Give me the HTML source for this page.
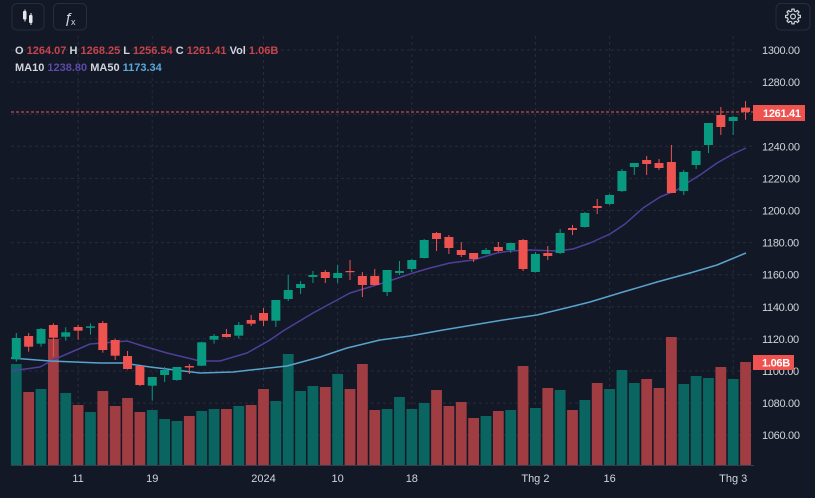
<!DOCTYPE html>
<html><head><meta charset="utf-8"><style>
html,body{margin:0;padding:0;background:#121826;}
body{width:815px;height:498px;overflow:hidden;}
svg{display:block;}
text{font-family:"Liberation Sans",sans-serif;}
</style></head><body>
<svg width="815" height="498" viewBox="0 0 815 498" xmlns="http://www.w3.org/2000/svg">
<rect width="815" height="498" fill="#121826"/>
<!-- grid -->
<g stroke="#262c38" stroke-width="1" stroke-dasharray="3,3">
<line x1="11" x2="753" y1="50" y2="50"/><line x1="11" x2="753" y1="82.1" y2="82.1"/><line x1="11" x2="753" y1="114.2" y2="114.2"/><line x1="11" x2="753" y1="146.3" y2="146.3"/><line x1="11" x2="753" y1="178.4" y2="178.4"/><line x1="11" x2="753" y1="210.5" y2="210.5"/><line x1="11" x2="753" y1="242.6" y2="242.6"/><line x1="11" x2="753" y1="274.7" y2="274.7"/><line x1="11" x2="753" y1="306.8" y2="306.8"/><line x1="11" x2="753" y1="338.9" y2="338.9"/><line x1="11" x2="753" y1="371" y2="371"/><line x1="11" x2="753" y1="403.1" y2="403.1"/><line x1="11" x2="753" y1="435.2" y2="435.2"/>
<line x1="78.1" x2="78.1" y1="36" y2="465"/><line x1="152.26" x2="152.26" y1="36" y2="465"/><line x1="263.5" x2="263.5" y1="36" y2="465"/><line x1="337.66" x2="337.66" y1="36" y2="465"/><line x1="411.82" x2="411.82" y1="36" y2="465"/><line x1="535.42" x2="535.42" y1="36" y2="465"/><line x1="609.58" x2="609.58" y1="36" y2="465"/><line x1="733.18" x2="733.18" y1="36" y2="465"/>
</g>
<!-- volume -->
<g fill="#0a6561">
<rect x="10.9" y="364" width="10.8" height="101"/><rect x="35.62" y="389" width="10.8" height="76"/><rect x="60.34" y="393" width="10.8" height="72"/><rect x="85.06" y="412" width="10.8" height="53"/><rect x="146.86" y="410" width="10.8" height="55"/><rect x="159.22" y="419" width="10.8" height="46"/><rect x="171.58" y="421" width="10.8" height="44"/><rect x="196.3" y="411" width="10.8" height="54"/><rect x="208.66" y="409" width="10.8" height="56"/><rect x="233.38" y="406" width="10.8" height="59"/><rect x="270.46" y="401" width="10.8" height="64"/><rect x="282.82" y="354" width="10.8" height="111"/><rect x="295.18" y="391" width="10.8" height="74"/><rect x="307.54" y="386" width="10.8" height="79"/><rect x="332.26" y="374" width="10.8" height="91"/><rect x="381.7" y="409" width="10.8" height="56"/><rect x="394.06" y="397" width="10.8" height="68"/><rect x="406.42" y="409" width="10.8" height="56"/><rect x="418.78" y="403" width="10.8" height="62"/><rect x="480.58" y="416" width="10.8" height="49"/><rect x="505.3" y="410" width="10.8" height="55"/><rect x="530.02" y="408" width="10.8" height="57"/><rect x="554.74" y="390" width="10.8" height="75"/><rect x="579.46" y="400" width="10.8" height="65"/><rect x="604.18" y="389" width="10.8" height="76"/><rect x="616.54" y="370" width="10.8" height="95"/><rect x="628.9" y="383" width="10.8" height="82"/><rect x="678.34" y="384" width="10.8" height="81"/><rect x="690.7" y="376" width="10.8" height="89"/><rect x="703.06" y="378" width="10.8" height="87"/><rect x="727.78" y="379" width="10.8" height="86"/>
</g>
<g fill="#a03d43">
<rect x="23.26" y="392" width="10.8" height="73"/><rect x="47.98" y="339" width="10.8" height="126"/><rect x="72.7" y="405" width="10.8" height="60"/><rect x="97.42" y="391" width="10.8" height="74"/><rect x="109.78" y="406" width="10.8" height="59"/><rect x="122.14" y="398" width="10.8" height="67"/><rect x="134.5" y="412" width="10.8" height="53"/><rect x="183.94" y="416" width="10.8" height="49"/><rect x="221.02" y="409" width="10.8" height="56"/><rect x="245.74" y="405" width="10.8" height="60"/><rect x="258.1" y="389" width="10.8" height="76"/><rect x="319.9" y="387" width="10.8" height="78"/><rect x="344.62" y="389" width="10.8" height="76"/><rect x="356.98" y="364" width="10.8" height="101"/><rect x="369.34" y="410" width="10.8" height="55"/><rect x="431.14" y="390" width="10.8" height="75"/><rect x="443.5" y="406" width="10.8" height="59"/><rect x="455.86" y="402" width="10.8" height="63"/><rect x="468.22" y="418" width="10.8" height="47"/><rect x="492.94" y="411" width="10.8" height="54"/><rect x="517.66" y="366" width="10.8" height="99"/><rect x="542.38" y="388" width="10.8" height="77"/><rect x="567.1" y="410" width="10.8" height="55"/><rect x="591.82" y="383" width="10.8" height="82"/><rect x="641.26" y="379" width="10.8" height="86"/><rect x="653.62" y="388" width="10.8" height="77"/><rect x="665.98" y="337" width="10.8" height="128"/><rect x="715.42" y="367" width="10.8" height="98"/><rect x="740.14" y="362" width="10.8" height="103"/>
</g>
<line x1="11" x2="754" y1="465.5" y2="465.5" stroke="#363c4c" stroke-width="1"/>
<!-- price line -->
<line x1="11" x2="753" y1="112" y2="112" stroke="#ef5350" stroke-width="1" stroke-dasharray="3,2"/>
<!-- MA lines (behind candles) -->
<polyline fill="none" stroke="#4f3f98" stroke-width="1.5" stroke-linejoin="round" points="11,371 40,367 53,360 90,344 127,341 143,346 167,353 200,361 220,361 247,353 270,340 283,331 313,313 350,293 383,283 413,273 430,268 450,263 473,260 497,253 510,251 530,250 557,251 573,249 590,243 610,234 625,224 643,208 660,197 677,190 687,183 700,175 717,163 733,154 746,148"/>
<polyline fill="none" stroke="#5aa3cc" stroke-width="1.5" stroke-linejoin="round" points="11,358 50,361 100,363 123,363 150,367 200,373 233,372 260,369 287,366 320,357 347,348 380,340 410,336 443,330 503,320 537,315 570,307 590,302 623,292 657,282 690,273 717,265 746,253"/>
<!-- candles up -->
<g fill="#089981">
<rect x="15.8" y="333" width="1" height="28.7"/><rect x="11.8" y="338" width="9" height="21.3"/>
<rect x="40.52" y="328" width="1" height="18.7"/><rect x="36.52" y="329" width="9" height="14.7"/>
<rect x="65.24" y="327.3" width="1" height="13.4"/><rect x="61.24" y="332.3" width="9" height="4.4"/>
<rect x="89.96" y="323.3" width="1" height="11.4"/><rect x="85.96" y="326.3" width="9" height="1.5"/>
<rect x="151.76" y="377" width="1" height="23.7"/><rect x="147.76" y="377" width="9" height="8.7"/>
<rect x="164.12" y="367" width="1" height="15"/><rect x="160.12" y="370" width="9" height="5"/>
<rect x="176.48" y="367" width="1" height="13.7"/><rect x="172.48" y="367" width="9" height="13"/>
<rect x="201.2" y="341.7" width="1" height="24.3"/><rect x="197.2" y="342.3" width="9" height="23.4"/>
<rect x="213.56" y="334" width="1" height="9.7"/><rect x="209.56" y="336" width="9" height="3.7"/>
<rect x="238.28" y="322" width="1" height="16.7"/><rect x="234.28" y="325" width="9" height="10.7"/>
<rect x="275.36" y="300" width="1" height="27"/><rect x="271.36" y="300" width="9" height="20.7"/>
<rect x="287.72" y="275" width="1" height="26"/><rect x="283.72" y="290" width="9" height="9"/>
<rect x="300.08" y="281" width="1" height="13"/><rect x="296.08" y="284" width="9" height="4"/>
<rect x="312.44" y="271" width="1" height="12"/><rect x="308.44" y="275" width="9" height="2"/>
<rect x="337.16" y="265" width="1" height="18"/><rect x="333.16" y="273" width="9" height="5"/>
<rect x="386.6" y="270" width="1" height="26"/><rect x="382.6" y="270" width="9" height="22"/>
<rect x="398.96" y="261" width="1" height="14"/><rect x="394.96" y="271" width="9" height="2"/>
<rect x="411.32" y="259" width="1" height="13"/><rect x="407.32" y="260" width="9" height="9"/>
<rect x="423.68" y="239" width="1" height="19.5"/><rect x="419.68" y="240" width="9" height="18"/>
<rect x="485.48" y="248" width="1" height="6.5"/><rect x="481.48" y="250" width="9" height="4"/>
<rect x="510.2" y="243" width="1" height="10"/><rect x="506.2" y="243" width="9" height="7"/>
<rect x="534.92" y="252" width="1" height="20.5"/><rect x="530.92" y="254" width="9" height="18"/>
<rect x="559.64" y="229" width="1" height="25"/><rect x="555.64" y="233" width="9" height="20"/>
<rect x="584.36" y="212" width="1" height="15.5"/><rect x="580.36" y="213" width="9" height="14"/>
<rect x="609.08" y="194" width="1" height="11"/><rect x="605.08" y="195" width="9" height="9"/>
<rect x="621.44" y="169" width="1" height="23"/><rect x="617.44" y="171" width="9" height="20"/>
<rect x="633.8" y="163" width="1" height="12"/><rect x="629.8" y="163" width="9" height="4"/>
<rect x="683.24" y="170" width="1" height="25"/><rect x="679.24" y="172" width="9" height="19"/>
<rect x="695.6" y="150" width="1" height="19"/><rect x="691.6" y="151" width="9" height="14"/>
<rect x="707.96" y="123" width="1" height="30"/><rect x="703.96" y="123" width="9" height="22"/>
<rect x="732.68" y="116" width="1" height="19"/><rect x="728.68" y="117" width="9" height="4"/>
</g>
<!-- candles down -->
<g fill="#ef5350">
<rect x="28.16" y="333" width="1" height="18.7"/><rect x="24.16" y="336" width="9" height="10.7"/>
<rect x="52.88" y="323.3" width="1" height="33.4"/><rect x="48.88" y="325" width="9" height="12.7"/>
<rect x="77.6" y="325" width="1" height="14.7"/><rect x="73.6" y="327" width="9" height="3.7"/>
<rect x="102.32" y="321" width="1" height="31.7"/><rect x="98.32" y="323" width="9" height="27"/>
<rect x="114.68" y="338.7" width="1" height="21.3"/><rect x="110.68" y="340" width="9" height="15.7"/>
<rect x="127.04" y="351" width="1" height="18.5"/><rect x="123.04" y="356" width="9" height="13"/>
<rect x="139.4" y="366" width="1" height="20"/><rect x="135.4" y="366" width="9" height="19"/>
<rect x="188.84" y="364" width="1" height="10"/><rect x="184.84" y="366" width="9" height="1.5"/>
<rect x="225.92" y="329" width="1" height="8.5"/><rect x="221.92" y="334" width="9" height="3"/>
<rect x="250.64" y="315" width="1" height="11"/><rect x="246.64" y="320" width="9" height="3.7"/>
<rect x="263" y="308" width="1" height="18"/><rect x="259" y="313" width="9" height="7.7"/>
<rect x="324.8" y="270" width="1" height="13"/><rect x="320.8" y="272" width="9" height="6"/>
<rect x="349.52" y="260" width="1" height="20"/><rect x="345.52" y="271" width="9" height="1.2"/>
<rect x="361.88" y="272" width="1" height="25"/><rect x="357.88" y="276" width="9" height="9"/>
<rect x="374.24" y="269" width="1" height="16.5"/><rect x="370.24" y="276" width="9" height="9"/>
<rect x="436.04" y="232" width="1" height="19"/><rect x="432.04" y="233" width="9" height="6"/>
<rect x="448.4" y="235" width="1" height="19"/><rect x="444.4" y="237" width="9" height="11"/>
<rect x="460.76" y="242" width="1" height="15"/><rect x="456.76" y="250" width="9" height="5"/>
<rect x="473.12" y="253" width="1" height="9"/><rect x="469.12" y="253" width="9" height="6"/>
<rect x="497.84" y="242" width="1" height="10"/><rect x="493.84" y="247" width="9" height="4"/>
<rect x="522.56" y="239" width="1" height="32"/><rect x="518.56" y="240" width="9" height="29"/>
<rect x="547.28" y="246" width="1" height="14"/><rect x="543.28" y="253" width="9" height="3"/>
<rect x="572" y="225" width="1" height="10"/><rect x="568" y="228" width="9" height="2"/>
<rect x="596.72" y="199" width="1" height="15"/><rect x="592.72" y="206" width="9" height="2"/>
<rect x="646.16" y="156" width="1" height="19"/><rect x="642.16" y="160" width="9" height="4"/>
<rect x="658.52" y="159" width="1" height="11"/><rect x="654.52" y="163" width="9" height="5"/>
<rect x="670.88" y="145" width="1" height="48"/><rect x="666.88" y="162" width="9" height="31"/>
<rect x="720.32" y="107" width="1" height="28"/><rect x="716.32" y="115" width="9" height="12"/>
<rect x="745.04" y="101" width="1" height="18.8"/><rect x="741.04" y="107.6" width="9" height="4.3"/>
</g>
<!-- price axis labels -->
<g fill="#d1d4dc" font-size="11" letter-spacing="-0.3">
<text x="762" y="54">1300.00</text>
<text x="762" y="86">1280.00</text>
<text x="762" y="150.3">1240.00</text>
<text x="762" y="182.4">1220.00</text>
<text x="762" y="214.5">1200.00</text>
<text x="762" y="246.6">1180.00</text>
<text x="762" y="278.7">1160.00</text>
<text x="762" y="310.8">1140.00</text>
<text x="762" y="342.9">1120.00</text>
<text x="762" y="375">1100.00</text>
<text x="762" y="407.1">1080.00</text>
<text x="762" y="439.2">1060.00</text>
</g>
<rect x="753" y="105" width="52" height="16" fill="#ef5350"/>
<text x="763" y="117" fill="#ffffff" font-size="11" font-weight="bold" letter-spacing="-0.3">1261.41</text>
<rect x="753" y="355" width="41" height="15" fill="#ef5350"/>
<text x="762" y="366.5" fill="#ffffff" font-size="11" font-weight="bold" letter-spacing="-0.3">1.06B</text>
<!-- time axis -->
<g fill="#d1d4dc" font-size="11" text-anchor="middle">
<text x="78.1" y="482">11</text>
<text x="152.26" y="482">19</text>
<text x="263.5" y="482">2024</text>
<text x="337.66" y="482">10</text>
<text x="411.82" y="482">18</text>
<text x="535.42" y="482">Thg 2</text>
<text x="609.58" y="482">16</text>
<text x="733.18" y="482">Thg 3</text>
</g>
<!-- legend -->
<text x="15" y="54" font-size="11" font-weight="bold"><tspan fill="#d1d4dc">O</tspan> <tspan fill="#c9434a">1264.07</tspan> <tspan fill="#d1d4dc">H</tspan> <tspan fill="#c9434a">1268.25</tspan> <tspan fill="#d1d4dc">L</tspan> <tspan fill="#c9434a">1256.54</tspan> <tspan fill="#d1d4dc">C</tspan> <tspan fill="#c9434a">1261.41</tspan> <tspan fill="#d1d4dc">Vol</tspan> <tspan fill="#c9434a">1.06B</tspan></text>
<text x="15" y="71" font-size="11" font-weight="bold"><tspan fill="#d1d4dc">MA10</tspan> <tspan fill="#5d4aa6">1238.80</tspan> <tspan fill="#d1d4dc">MA50</tspan> <tspan fill="#5aa9d6">1173.34</tspan></text>
<!-- toolbar buttons -->
<rect x="12" y="3.5" width="32" height="26.5" rx="5" fill="#121826" stroke="#262d3b" stroke-width="1"/>
<rect x="53.5" y="3.5" width="33" height="26.5" rx="5" fill="#121826" stroke="#262d3b" stroke-width="1"/>
<rect x="776" y="3.5" width="34" height="26.5" rx="5" fill="#121826" stroke="#262d3b" stroke-width="1"/>
<g fill="#e6e8ee">
<rect x="24.5" y="9.5" width="1" height="12"/><rect x="23" y="11" width="3.5" height="8.5" rx="1"/>
<rect x="30.5" y="13" width="1" height="12"/><rect x="29" y="15" width="3.5" height="8" rx="1"/>
</g>
<text x="64" y="23" fill="#d1d4dc" font-size="15" font-family="Liberation Serif, serif" font-style="italic">ƒ</text>
<text x="71" y="25" fill="#d1d4dc" font-size="9">x</text>
<g transform="translate(793,16.5)" fill="none" stroke="#d1d4dc" stroke-width="1.2" stroke-linejoin="round">
<polygon points="5.457,-1.26 7.408,-1.173 7.408,1.173 5.457,1.26 4.749,2.968 6.068,4.408 4.408,6.068 2.968,4.749 1.26,5.457 1.173,7.408 -1.173,7.408 -1.26,5.457 -2.968,4.749 -4.408,6.068 -6.068,4.408 -4.749,2.968 -5.457,1.26 -7.408,1.173 -7.408,-1.173 -5.457,-1.26 -4.749,-2.968 -6.068,-4.408 -4.408,-6.068 -2.968,-4.749 -1.26,-5.457 -1.173,-7.408 1.173,-7.408 1.26,-5.457 2.968,-4.749 4.408,-6.068 6.068,-4.408 4.749,-2.968"/>
<circle cx="0" cy="0" r="2.4"/>
</g>
</svg>
</body></html>
